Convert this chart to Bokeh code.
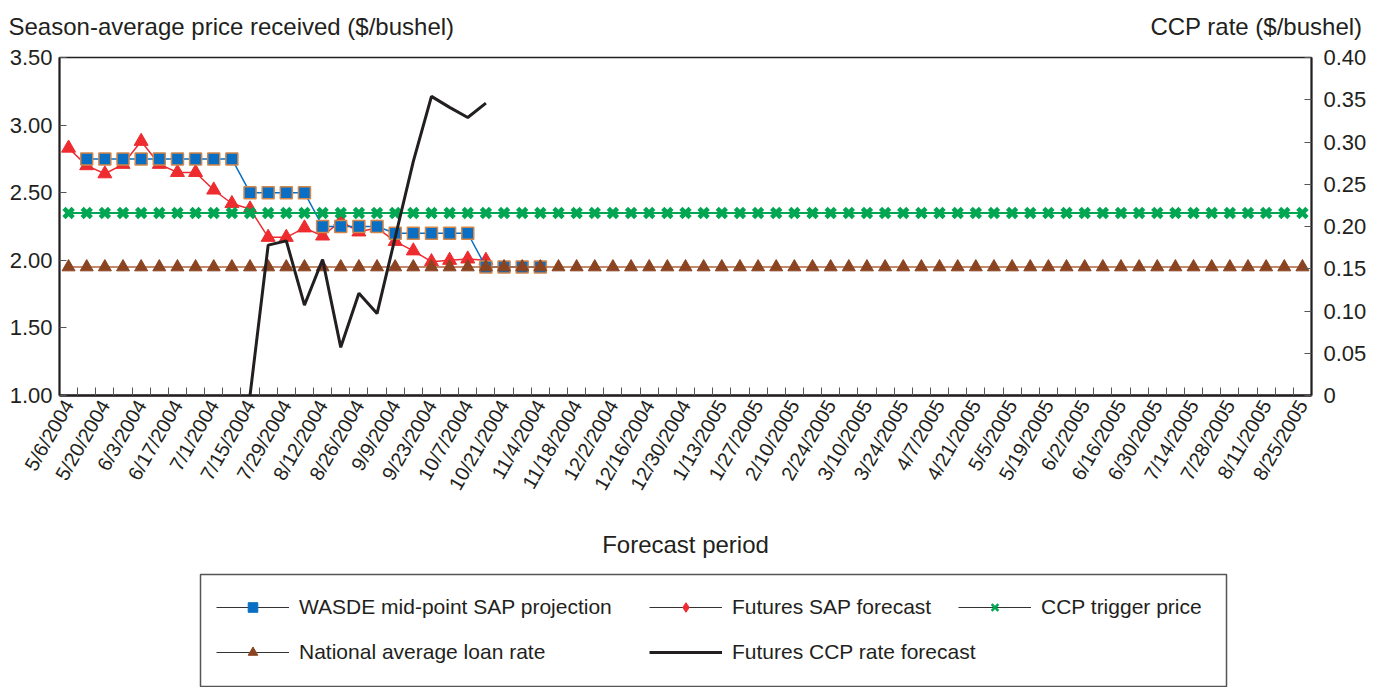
import math
from bokeh.plotting import figure
from bokeh.models import (Range1d, LinearAxis, FixedTicker, PrintfTickFormatter,
                          Legend, LegendItem)
from bokeh.core.properties import value
from bokeh.layouts import column
from bokeh.embed import file_html
from bokeh.resources import INLINE

# ---------------- data ----------------
dates = [
    "5/6/2004", "5/13/2004", "5/20/2004", "5/27/2004", "6/3/2004", "6/10/2004", "6/17/2004",
    "6/24/2004", "7/1/2004", "7/8/2004", "7/15/2004", "7/22/2004", "7/29/2004", "8/5/2004",
    "8/12/2004", "8/19/2004", "8/26/2004", "9/2/2004", "9/9/2004", "9/16/2004", "9/23/2004",
    "9/30/2004", "10/7/2004", "10/14/2004", "10/21/2004", "10/28/2004", "11/4/2004",
    "11/11/2004", "11/18/2004", "11/25/2004", "12/2/2004", "12/9/2004", "12/16/2004",
    "12/23/2004", "12/30/2004", "1/6/2005", "1/13/2005", "1/20/2005", "1/27/2005", "2/3/2005",
    "2/10/2005", "2/17/2005", "2/24/2005", "3/3/2005", "3/10/2005", "3/17/2005", "3/24/2005",
    "3/31/2005", "4/7/2005", "4/14/2005", "4/21/2005", "4/28/2005", "5/5/2005", "5/12/2005",
    "5/19/2005", "5/26/2005", "6/2/2005", "6/9/2005", "6/16/2005", "6/23/2005", "6/30/2005",
    "7/7/2005", "7/14/2005", "7/21/2005", "7/28/2005", "8/4/2005", "8/11/2005", "8/18/2005",
    "8/25/2005",
]

# WASDE mid-point SAP projection, starting 5/13/2004
wasde_start = "5/13/2004"
wasde_sap = [2.75, 2.75, 2.75, 2.75, 2.75, 2.75, 2.75, 2.75, 2.75,
             2.50, 2.50, 2.50, 2.50,
             2.25, 2.25, 2.25, 2.25,
             2.20, 2.20, 2.20, 2.20, 2.20,
             1.95, 1.95, 1.95, 1.95]

# Futures SAP forecast, starting 5/6/2004
futures_start = "5/6/2004"
futures_sap = [2.83, 2.70, 2.64, 2.71, 2.88, 2.71, 2.65, 2.65, 2.52, 2.42, 2.38, 2.17,
               2.17, 2.24, 2.18, 2.29, 2.21, 2.24, 2.14, 2.07, 1.99, 2.00, 2.01, 2.00]

# Futures CCP rate forecast ($/bushel, right axis), starting 7/15/2004
ccp_start = "7/15/2004"
ccp_rate = [0.0, 0.178, 0.183, 0.107, 0.161, 0.057, 0.121, 0.097, 0.187, 0.277,
            0.354, 0.341, 0.329, 0.346]

ccp_trigger = [2.35] * len(dates)
loan_rate = [1.95] * len(dates)

left_ticks = [1.00, 1.50, 2.00, 2.50, 3.00, 3.50]
right_ticks = [0, 0.05, 0.10, 0.15, 0.20, 0.25, 0.30, 0.35, 0.40]

left_title = "Season-average price received ($/bushel)"
right_title = "CCP rate ($/bushel)"
x_title = "Forecast period"

# ---------------- helpers ----------------
def xs_for(start, values):
    i0 = dates.index(start)
    return list(range(i0, i0 + len(values)))

FONT = "Liberation Sans"
TXT = "#231f20"

BLUE = "#0a6fc2"
ORANGE = "#d4874a"
RED = "#ee2b2f"
GREEN = "#00a651"
BROWN = "#8b4422"
BROWN_LINE = "#b0643c"

W = 1380
n = len(dates)

# ---------------- header (axis titles) ----------------
HEAD_H = 40
head = figure(width=W, height=HEAD_H, x_range=Range1d(0, W), y_range=Range1d(HEAD_H, 0),
              x_axis_type=None, y_axis_type=None, output_backend="svg",
              toolbar_location=None, min_border=0, frame_align=False)
head.outline_line_color = None
head.grid.visible = False
head.text(x=[8], y=[26], text=[left_title], text_font=value(FONT),
          text_font_size="24px", text_color=TXT, text_baseline="alphabetic",
          text_align="left")
head.text(x=[1362], y=[26], text=[right_title], text_font=value(FONT),
          text_font_size="24px", text_color=TXT, text_baseline="alphabetic",
          text_align="right")

# ---------------- main chart ----------------
MAIN_H = 533
p = figure(width=W, height=MAIN_H,
           x_range=Range1d(-0.5, n - 0.5), y_range=Range1d(1.0, 3.5),
           x_axis_type=None, y_axis_type=None,
           output_backend="svg", toolbar_location=None, frame_align=False,
           min_border_left=59, min_border_right=W - 1311,
           min_border_top=57 - HEAD_H, min_border_bottom=MAIN_H - (395 - HEAD_H))
p.extra_y_ranges = {"ccp": Range1d(0, 0.40)}
p.outline_line_color = TXT
p.outline_line_width = 1.5
p.background_fill_color = "white"
p.border_fill_color = "white"

xaxis = LinearAxis(
    ticker=FixedTicker(ticks=list(range(0, n, 2)),
                       minor_ticks=[i - 0.5 for i in range(n + 1)]),
    major_label_overrides={i: dates[i] for i in range(0, n, 2)},
    major_label_orientation=math.pi / 3,
    major_label_text_font=FONT, major_label_text_font_size="20px",
    major_label_text_color=TXT, major_label_standoff=6,
    major_tick_in=0, major_tick_out=0, major_tick_line_color=None,
    minor_tick_in=8, minor_tick_out=0, minor_tick_line_color="#555555",
    axis_line_color=TXT, axis_line_width=2.5,
    axis_label=x_title, axis_label_text_font=FONT,
    axis_label_text_font_size="24px", axis_label_text_font_style="normal",
    axis_label_text_color=TXT, axis_label_standoff=29,
)
p.add_layout(xaxis, "below")

yleft = LinearAxis(
    ticker=FixedTicker(ticks=left_ticks),
    formatter=PrintfTickFormatter(format="%.2f"),
    major_label_text_font=FONT, major_label_text_font_size="22px",
    major_label_text_color=TXT, major_label_standoff=7,
    major_tick_in=7, major_tick_out=0, major_tick_line_color="#555555",
    minor_tick_line_color=None,
    axis_line_color=TXT, axis_line_width=2,
)
p.add_layout(yleft, "left")

yright = LinearAxis(
    y_range_name="ccp",
    ticker=FixedTicker(ticks=right_ticks),
    formatter=PrintfTickFormatter(format="%.2f"),
    major_label_overrides={0: "0"},
    major_label_text_font=FONT, major_label_text_font_size="22px",
    major_label_text_color=TXT, major_label_standoff=12,
    major_tick_in=7, major_tick_out=0, major_tick_line_color="#555555",
    minor_tick_line_color=None,
    axis_line_color=TXT, axis_line_width=2,
)
p.add_layout(yright, "right")

fx = xs_for(futures_start, futures_sap)
p.line(fx, futures_sap, line_color=RED, line_width=1.5)
p.scatter(fx, futures_sap, marker="triangle", size=14, fill_color=RED, line_color=RED)

wx = xs_for(wasde_start, wasde_sap)
p.line(wx, wasde_sap, line_color=BLUE, line_width=1.5)
p.scatter(wx, wasde_sap, marker="square", size=12, fill_color=BLUE,
          line_color=ORANGE, line_width=1.5)

ax = list(range(n))
p.line(ax, ccp_trigger, line_color=GREEN, line_width=2)
p.scatter(ax, ccp_trigger, marker="x", size=13, line_color=GREEN, line_width=4.5)

p.line(ax, loan_rate, line_color=BROWN_LINE, line_width=1.5)
p.scatter(ax, loan_rate, marker="triangle", size=13, fill_color=BROWN, line_color=BROWN)

cx = xs_for(ccp_start, ccp_rate)
p.line(cx, ccp_rate, y_range_name="ccp", line_color=TXT, line_width=3)

# ---------------- legend panel ----------------
LEG_H = 687 - 573
lg = figure(width=W, height=LEG_H, x_range=Range1d(0, 1), y_range=Range1d(0, 1),
            x_axis_type=None, y_axis_type=None,
            output_backend="svg", toolbar_location=None, frame_align=False,
            min_border_left=200, min_border_right=W - 1226,
            min_border_top=1, min_border_bottom=1)
lg.outline_line_color = "#555555"
lg.outline_line_width = 1.5
lg.grid.visible = False

NAN = float("nan")

def swatch(marker=None, color=None, lw=1.2, lc="#333333", size=11):
    rs = [lg.line(x=[NAN, NAN], y=[NAN, NAN], line_color=lc, line_width=lw)]
    if marker:
        rs.append(lg.scatter(x=[NAN], y=[NAN], marker=marker, size=size,
                             fill_color=color, line_color=color,
                             line_width=2.5 if marker == "x" else 1))
    return rs

r_wasde = swatch("square", BLUE, size=11)
r_fut = swatch("diamond", RED, size=13)
r_trig = swatch("x", GREEN, size=9)
r_loan = swatch("triangle", BROWN, size=11)
r_ccp = swatch(None, None, lw=3, lc=TXT)

def make_legend(items, loc):
    return Legend(items=items, location=loc, orientation="vertical",
                  glyph_width=73, glyph_height=24, label_height=24, label_standoff=10,
                  spacing=21, padding=0, margin=0,
                  border_line_color=None, background_fill_alpha=0,
                  label_text_font=FONT, label_text_font_size="21px",
                  label_text_color=TXT)

lg.add_layout(make_legend([LegendItem(label="WASDE mid-point SAP projection", renderers=r_wasde),
                           LegendItem(label="National average loan rate", renderers=r_loan)],
                          (16, 22)))
lg.add_layout(make_legend([LegendItem(label="Futures SAP forecast", renderers=r_fut),
                           LegendItem(label="Futures CCP rate forecast", renderers=r_ccp)],
                          (449, 22)))
lg.add_layout(make_legend([LegendItem(label="CCP trigger price", renderers=r_trig)],
                          (758, 67)))

layout = column(head, p, lg, spacing=0)
open("out.html", "w").write(file_html(layout, INLINE))
